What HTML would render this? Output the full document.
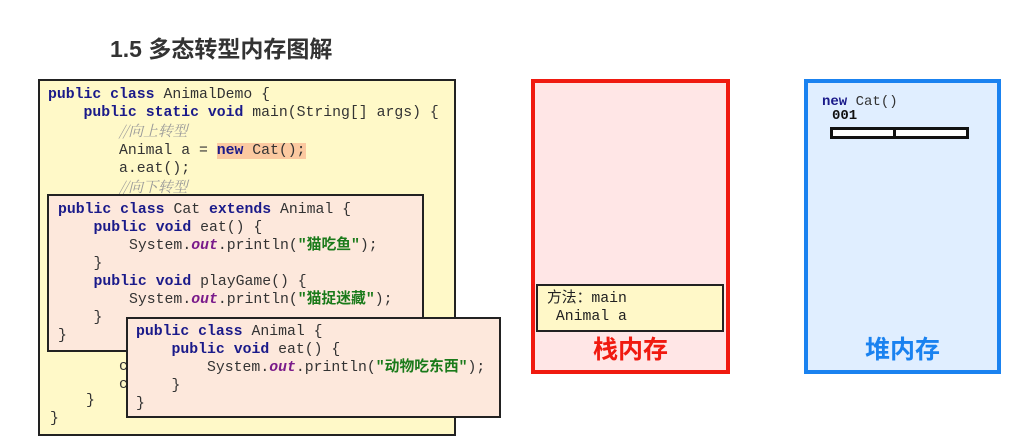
<!DOCTYPE html>
<html><head><meta charset="utf-8"><style>
body{margin:0;width:1024px;height:448px;background:#fff;position:relative;overflow:hidden;font-family:"Liberation Sans","Noto Sans CJK SC",sans-serif}
.a{position:absolute;box-sizing:border-box}
.code{font-family:"Liberation Mono","Noto Sans CJK SC",monospace;font-size:14.8px;color:#333;white-space:pre;line-height:18px}
.k{color:#1a1a8a;font-weight:bold}
.o{color:#7a1a8a;font-style:italic;font-weight:bold}
.s{color:#1a7a1a;font-weight:bold}
.c{color:#999;font-style:italic;font-family:"Noto Serif CJK SC","Liberation Mono",serif}
</style></head><body>
<div class="a" style="left:110px;top:30px;font-size:23px;font-weight:bold;color:#333">1.5 多态转型内存图解</div>

<div class="a" style="left:38px;top:79px;width:418px;height:357px;background:#fff9c8;border:2px solid #222"></div>
<div class="a code" style="left:48px;top:86px"><span class="k">public class</span> AnimalDemo {
    <span class="k">public static void</span> main(String[] args) {
        <span class="c">//向上转型</span>
        Animal a = <span style="background:#fbc9a0"><span class="k">new</span> Cat();</span>
        a.eat();
        <span class="c">//向下转型</span></div>
<div class="a code" style="left:119px;top:358px">c
c</div>
<div class="a code" style="left:86px;top:392px">}</div>
<div class="a code" style="left:50px;top:410px">}</div>

<div class="a" style="left:47px;top:194px;width:377px;height:158px;background:#fde8dc;border:2px solid #222"></div>
<div class="a code" style="left:58px;top:201px"><span class="k">public class</span> Cat <span class="k">extends</span> Animal {
    <span class="k">public void</span> eat() {
        System.<span class="o">out</span>.println(<span class="s">"猫吃鱼"</span>);
    }
    <span class="k">public void</span> playGame() {
        System.<span class="o">out</span>.println(<span class="s">"猫捉迷藏"</span>);
    }
}</div>

<div class="a" style="left:126px;top:317px;width:375px;height:101px;background:#fde8dc;border:2px solid #222"></div>
<div class="a code" style="left:136px;top:323px"><span class="k">public class</span> Animal {
    <span class="k">public void</span> eat() {
        System.<span class="o">out</span>.println(<span class="s">"动物吃东西"</span>);
    }
}</div>

<div class="a" style="left:531px;top:79px;width:199px;height:295px;background:#ffe6e6;border:4px solid #f01a10"></div>
<div class="a" style="left:536px;top:284px;width:188px;height:48px;background:#fff8c8;border:2px solid #222"></div>
<div class="a code" style="left:547px;top:290px;color:#222">方法：main
 Animal a</div>
<div class="a" style="left:531px;top:330px;width:199px;text-align:center;font-size:25px;font-weight:bold;color:#f01a10">栈内存</div>

<div class="a" style="left:804px;top:79px;width:197px;height:295px;background:#e0eeff;border:4px solid #1a82f0"></div>
<div class="a code" style="left:822px;top:93px;font-size:14px"><span class="k">new</span> Cat()</div>
<div class="a code" style="left:832px;top:107px;font-weight:bold;color:#111;font-size:14px">001</div>
<div class="a" style="left:830px;top:127px;width:139px;height:12px;border:3px solid #111;background:#fff"></div>
<div class="a" style="left:893px;top:127px;width:3px;height:12px;background:#111"></div>
<div class="a" style="left:804px;top:330px;width:197px;text-align:center;font-size:25px;font-weight:bold;color:#1a82f0">堆内存</div>
</body></html>
